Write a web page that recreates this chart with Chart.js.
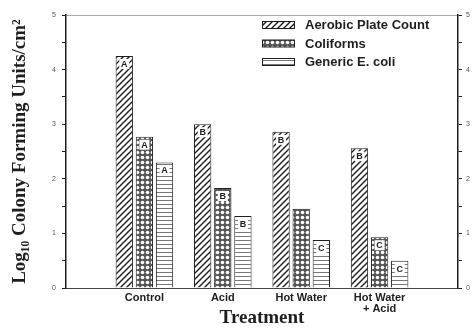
<!DOCTYPE html>
<html>
<head>
<meta charset="utf-8">
<script src="https://cdn.jsdelivr.net/npm/chart.js@4.4.1/dist/chart.umd.min.js"></script>
<style>
    html, body { margin: 0; padding: 0; background: #fff; }
    #wrap { width: 473px; height: 328px; }
</style>
</head>
<body>
<div id="wrap"><canvas id="chart"></canvas></div>
<script>
// chart data
const categories = ['', 'Control', 'Acid', 'Hot Water', ['Hot Water', '+ Acid'], ''];
const seriesNames = ['Aerobic Plate Count', 'Coliforms', 'Generic E. coli'];
const aerobicPlateCount = [null, 4.25, 3.0, 2.86, 2.56, null];
const coliforms = [null, 2.77, 1.83, 1.45, 0.93, null];
const genericEColi = [null, 2.3, 1.32, 0.88, 0.5, null];
const apcLetters = ['', 'A', 'B', 'B', 'B', ''];
const coliformLetters = ['', 'A', 'B', '', 'C', ''];
const ecoliLetters = ['', 'A', 'B', 'C', 'C', ''];
const yTickValues = [0, 1, 2, 3, 4, 5];

const ink = '#1e1e1e';

function makePattern(kind) {
    const c = document.createElement('canvas');
    const size = kind === 'diag' ? 6 : (kind === 'dots' ? 5 : 4);
    c.width = size; c.height = size;
    const g = c.getContext('2d');
    g.fillStyle = '#fff';
    g.fillRect(0, 0, size, size);
    if (kind === 'diag') {
        g.strokeStyle = ink;
        g.lineWidth = 1.4;
        g.beginPath();
        g.moveTo(0, size); g.lineTo(size, 0);
        g.moveTo(-1, 1); g.lineTo(1, -1);
        g.moveTo(size - 1, size + 1); g.lineTo(size + 1, size - 1);
        g.stroke();
    } else if (kind === 'dots') {
        g.fillStyle = '#555';
        g.fillRect(0, 0, size, size);
        g.fillStyle = '#fff';
        g.beginPath();
        g.arc(size / 2, size / 2, 1.8, 0, Math.PI * 2);
        g.fill();
    } else {
        g.fillStyle = '#777';
        g.fillRect(0, 0, size, 1);
    }
    return g.createPattern(c, 'repeat');
}

const patterns = [makePattern('diag'), makePattern('dots'), makePattern('lines')];
const letterSets = [apcLetters, coliformLetters, ecoliLetters];

const extras = {
    id: 'extras',
    afterDatasetsDraw(chart) {
        const ctx = chart.ctx;
        ctx.save();
        ctx.font = 'bold 9px "Liberation Sans", Arial, sans-serif';
        ctx.textAlign = 'center';
        ctx.textBaseline = 'middle';
        chart.data.datasets.forEach((ds, i) => {
            chart.getDatasetMeta(i).data.forEach((bar, j) => {
                const t = letterSets[i][j];
                if (!t || ds.data[j] == null) return;
                ctx.fillStyle = '#fff';
                ctx.fillRect(bar.x - 5, bar.y + 3, 10, 10);
                ctx.fillStyle = ink;
                ctx.fillText(t, bar.x, bar.y + 8.5);
            });
        });

        // legend inside the plot
        const lx = 262, ly = 25, rowH = 18.5;
        ctx.textAlign = 'left';
        ctx.font = 'bold 13px "Liberation Sans", Arial, sans-serif';
        chart.data.datasets.forEach((ds, i) => {
            const y = ly + i * rowH;
            ctx.fillStyle = ds.backgroundColor;
            ctx.fillRect(lx, y - 3.5, 33, 7);
            ctx.strokeStyle = ink;
            ctx.lineWidth = 1;
            ctx.strokeRect(lx + 0.5, y - 3.5, 32, 7);
            ctx.fillStyle = ink;
            ctx.fillText(ds.label, lx + 43, y + 0.5);
        });
        ctx.restore();
    }
};

const seriesValues = [aerobicPlateCount, coliforms, genericEColi];

new Chart(document.getElementById('chart'), {
    type: 'bar',
    data: {
        labels: categories,
        datasets: seriesNames.map((name, i) => ({
            label: name,
            data: seriesValues[i],
            backgroundColor: patterns[i],
            borderColor: ink,
            borderWidth: 1,
            categoryPercentage: 0.77,
            barPercentage: 0.86
        }))
    },
    options: {
        responsive: true,
        maintainAspectRatio: false,
        animation: false,
        layout: { padding: { top: 15, left: 0, right: 0, bottom: 0 } },
        plugins: {
            legend: { display: false },
            tooltip: { enabled: false }
        },
        scales: {
            x: {
                offset: false,
                grid: { display: false, drawTicks: false },
                border: { color: '#444', width: 1 },
                ticks: {
                    color: ink,
                    font: { family: '"Liberation Sans", Arial, sans-serif', size: 11, weight: 'bold', lineHeight: 1.05 },
                    maxRotation: 0,
                    autoSkip: false,
                    padding: 4
                },
                title: {
                    display: true,
                    text: 'Treatment',
                    color: ink,
                    font: { family: '"Liberation Serif", "Times New Roman", serif', size: 19, weight: 'bold', lineHeight: 1 },
                    padding: { top: 0, bottom: 0 }
                },
                afterFit(scale) { scale.height = 40; }
            },
            y: {
                min: 0,
                max: 5,
                position: 'left',
                grid: {
                    drawOnChartArea: true,
                    color: ctx => (ctx.tick && ctx.tick.value === 5 ? '#aaa' : 'rgba(0,0,0,0)'),
                    tickColor: ink,
                    tickLength: 4
                },
                border: { color: ink, width: 1.5 },
                ticks: {
                    stepSize: 0.5,
                    color: '#555',
                    font: { family: '"Liberation Sans", Arial, sans-serif', size: 7 },
                    padding: 6,
                    callback: v => (yTickValues.includes(v) ? v : '')
                },
                title: {
                    display: true,
                    text: 'Log\u2081\u2080 Colony Forming Units/cm\u00b2',
                    color: ink,
                    font: { family: '"Liberation Serif", "Times New Roman", serif', size: 19, weight: 'bold', lineHeight: 1.1 },
                    padding: { top: 10, bottom: 0 }
                },
                afterFit(scale) { scale.width = 66; }
            },
            y2: {
                min: 0,
                max: 5,
                position: 'right',
                grid: { drawOnChartArea: false, tickColor: ink, tickLength: 4 },
                border: { color: ink, width: 1.5 },
                ticks: {
                    stepSize: 0.5,
                    color: '#555',
                    font: { family: '"Liberation Sans", Arial, sans-serif', size: 7 },
                    padding: 4,
                    callback: v => (yTickValues.includes(v) ? v : '')
                },
                afterFit(scale) { scale.width = 15; }
            }
        }
    },
    plugins: [extras]
});
</script>
</body>
</html>
